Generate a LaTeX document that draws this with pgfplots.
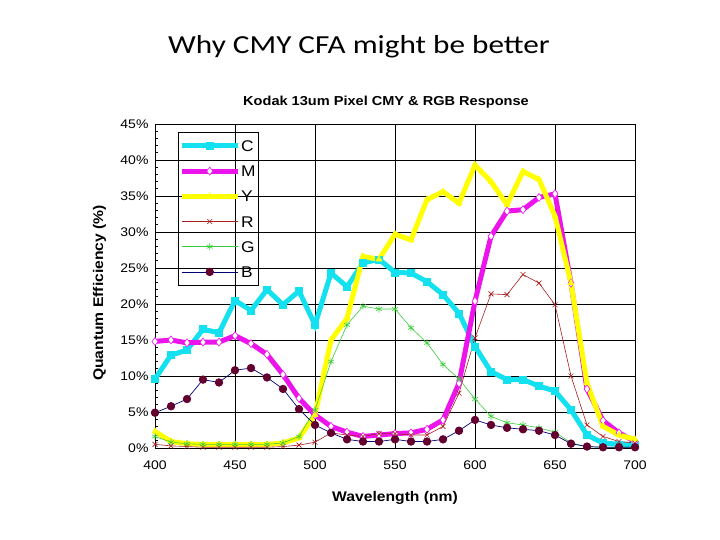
\documentclass[border=0pt]{standalone}
\usepackage{fontspec}
\setmainfont[FakeStretch=1.12]{Liberation Sans}
\newfontfamily\calibri[FakeStretch=1.2]{Carlito}
\usepackage{pgfplots}
\usepackage{pgfplotstable}
\pgfplotsset{compat=1.18}
\definecolor{cC}{RGB}{20,225,240}
\definecolor{cM}{RGB}{235,20,235}
\definecolor{cY}{RGB}{255,255,0}
\definecolor{cR}{RGB}{170,30,30}
\definecolor{cG}{RGB}{60,205,60}
\definecolor{cBl}{RGB}{0,0,120}
\definecolor{cBm}{RGB}{100,0,45}
\pgfplotstableread{
wl C M Y R G B
400 9.6 14.8 2.3 0.5 1.6 4.9
410 12.9 15.0 0.9 0.3 0.8 5.8
420 13.6 14.6 0.6 0.2 0.6 6.8
430 16.5 14.7 0.5 0.1 0.5 9.5
440 16.0 14.7 0.5 0.1 0.5 9.1
450 20.5 15.6 0.5 0.1 0.5 10.8
460 19.1 14.5 0.5 0.1 0.5 11.1
470 22.0 13.0 0.5 0.1 0.5 9.8
480 19.9 10.2 0.7 0.2 0.7 8.2
490 21.8 6.9 1.4 0.4 1.6 5.4
500 17.1 4.6 4.6 0.8 5.3 3.2
510 24.3 3.0 15.0 2.1 12.0 2.1
520 22.4 2.2 18.0 1.8 17.1 1.2
530 25.7 1.6 26.6 1.6 19.7 0.9
540 26.2 1.8 26.2 2.0 19.3 0.9
550 24.4 2.0 29.7 2.0 19.3 1.2
560 24.3 2.1 28.9 1.8 16.7 0.9
570 23.1 2.6 34.5 1.8 14.6 0.9
580 21.3 3.9 35.6 3.0 11.6 1.2
590 18.7 9.0 34.0 7.6 9.6 2.4
600 14.1 20.4 39.3 15.3 6.8 3.9
610 10.6 29.4 37.0 21.4 4.4 3.2
620 9.5 32.9 33.8 21.3 3.5 2.8
630 9.5 33.1 38.4 24.1 3.2 2.6
640 8.6 34.8 37.3 22.9 2.8 2.4
650 7.9 35.3 32.2 19.9 2.2 1.8
660 5.3 22.9 22.9 10.0 0.7 0.6
670 1.8 8.2 9.0 3.2 0.2 0.2
680 0.7 3.8 3.0 1.6 0.1 0.1
690 0.5 2.1 1.8 0.9 0.1 0.1
700 0.5 0.9 1.2 0.7 0.1 0.1
}\qe
\begin{document}
\begin{tikzpicture}
\useasboundingbox (0pt,0pt) rectangle (720pt,540pt);
\node[font=\calibri\fontsize{26}{30}\selectfont, anchor=base] at (359pt,486pt) {Why CMY CFA might be better};
\node[font=\bfseries\fontsize{13}{15}\selectfont, anchor=base] at (386pt,434pt) {Kodak 13um Pixel CMY \& RGB Response};
\node[font=\bfseries\fontsize{14}{16}\selectfont, anchor=base] at (395pt,38pt) {Wavelength (nm)};
\node[font=\bfseries\fontsize{14}{16}\selectfont, rotate=90, anchor=base] at (103pt,247pt) {Quantum Efficiency (\%)};
\begin{axis}[
  at={(155pt,92pt)}, anchor=south west,
  width=480pt, height=324pt, scale only axis,
  xmin=400, xmax=700, ymin=0, ymax=45,
  xtick={400,450,...,700},
  ytick={0,5,...,45},
  minor y tick num=4,
  yticklabel={\pgfmathprintnumber{\tick}\%},
  /pgf/number format/assume math mode=true,
  ticklabel style={font=\fontsize{12.5}{14}\selectfont},
  xticklabel style={yshift=-9pt},
  yticklabel style={xshift=-3pt},
  grid=major,
  major grid style={black, line width=0.8pt},
  axis line style={black, line width=0.8pt},
  tick style={black, line width=0.6pt},
  major tick length=4pt, minor tick length=3pt,
  tick align=inside,
  xtick pos=bottom, ytick pos=left,
  legend cell align=left,
  legend style={at={(0.048,0.975)}, anchor=north west, draw=black, fill=none,
    font=\fontsize{15.5}{16}\selectfont, row sep=0pt, inner xsep=1pt, inner ysep=1pt,
    nodes={inner ysep=0pt, inner xsep=1pt, text height=18.2pt, text depth=7pt}},
  legend image code/.code={\draw[mark repeat=2,mark phase=2,#1] plot coordinates {(0pt,0pt) (28pt,0pt) (56pt,0pt)};},
]
\addplot[color=cC, line width=5pt, mark=square*, mark size=3.5pt, mark options={fill=cC, draw=cC, line width=0.5pt}] table[x=wl,y=C]{\qe};
\addlegendentry{C}
\addplot[color=cM, line width=5pt, mark=diamond*, mark size=4pt, mark options={fill=white, draw=cM, line width=0.6pt}] table[x=wl,y=M]{\qe};
\addlegendentry{M}
\addplot[color=cY, line width=5pt, mark=triangle*, mark size=3.5pt, mark options={fill=cY, draw=cY, line width=0.5pt}] table[x=wl,y=Y]{\qe};
\addlegendentry{Y}
\addplot[color=cR, line width=0.6pt, mark=x, mark size=3.5pt, mark options={draw=cR, line width=0.6pt}] table[x=wl,y=R]{\qe};
\addlegendentry{R}
\addplot[color=cG, line width=0.6pt, mark=asterisk, mark size=3.5pt, mark options={draw=cG, line width=0.6pt}] table[x=wl,y=G]{\qe};
\addlegendentry{G}
\addplot[color=cBl, line width=0.7pt, mark=*, mark size=3.8pt, mark options={fill=cBm, draw=cBm}] table[x=wl,y=B]{\qe};
\addlegendentry{B}
\end{axis}
\end{tikzpicture}
\end{document}
